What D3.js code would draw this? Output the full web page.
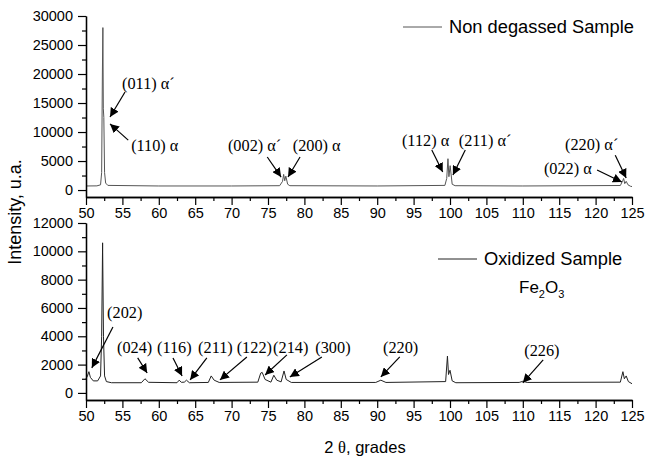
<!DOCTYPE html>
<html>
<head>
<meta charset="utf-8">
<script src="https://cdn.jsdelivr.net/npm/d3@7"></script>
<style>
  body { margin: 0; background: #fff; }
  svg { display: block; }
</style>
</head>
<body>
<svg id="fig_xrd" width="646" height="458"></svg>
<script>

// 2 theta (grades), intensity (u.a.)
var top_series = [[50,700],[51.5,720],[52.0,900],[52.15,3000],[52.25,20000],[52.32,28000],[52.38,14000],
    [52.45,12500],[52.55,3000],[52.7,1200],[53,800],[60,700],[70,700],[76.6,750],[77.0,1500],[77.15,2700],
    [77.3,1600],[77.45,2400],[77.7,1000],[78,750],[90,700],[99.3,800],[99.55,2000],[99.72,5400],[99.85,2300],
    [100.02,4200],[100.3,1000],[100.7,750],[110,700],[123.4,780],[123.72,1600],[123.85,2000],[124.0,1100],
    [124.2,1500],[124.45,900],[124.8,650],[125,600]];

var bottom_series = [[50.0,1000],[50.2,1200],[50.4,1500],[50.6,1100],[51,850],[51.6,850],[52.0,1200],
    [52.15,4000],[52.28,10600],[52.4,4000],[52.55,1200],[52.8,800],[53.5,720],[57.6,720],[58.1,1000],
    [58.6,750],[62.5,720],[62.8,900],[63.1,750],[63.5,760],[63.8,900],[64.2,720],[66.8,740],[67.2,1200],
    [67.6,900],[68.3,740],[73.6,760],[74.0,1400],[74.2,1450],[74.6,950],[75.4,760],[75.8,1250],[76.2,900],
    [76.8,780],[77.2,1550],[77.5,950],[78.2,740],[89.8,740],[90.5,900],[91.2,740],[99.4,800],[99.65,2600],
    [99.8,1300],[100.0,1600],[100.3,850],[100.8,720],[109.5,740],[110.0,820],[110.6,740],[123.4,760],
    [123.75,1500],[123.95,1000],[124.2,1200],[124.5,800],[125,650]];

var x_ticks = [50,55,60,65,70,75,80,85,90,95,100,105,110,115,120,125];
var top_y_ticks = [0,5000,10000,15000,20000,25000,30000];
var bottom_y_ticks = [0,2000,4000,6000,8000,10000,12000];

// label, text pos (x, y), arrow from (x, y) to (x, y) -- all in data units
var top_labels = [
    ["(011) \u03b1\u00b4", 54.95,17400, 55.36,16900, 53.3,12600],
    ["(110) \u03b1",       56.2,6700,   55.8,8600,   53.3,11400],
    ["(002) \u03b1\u00b4", 69.5,6700,   74.9,5700,   76.8,2240],
    ["(200) \u03b1",       78.4,6700,   79.4,5700,   77.75,2240],
    ["(112) \u03b1",       93.4,7600,   97.5,6900,   99.0,3100],
    ["(211) \u03b1\u00b4", 101.2,7600,  102.1,6900,  100.4,2600],
    ["(220) \u03b1\u00b4", 115.8,6900,  122.7,6000,  124.2,2070],
    ["(022) \u03b1",       112.9,2760,  120.2,3450,  123.6,1380]
];

var bottom_labels = [
    ["(202)", 52.9,5300,  53.7,4660,  50.8,1770],
    ["(024)", 54.26,2830, 57.1,2470,  58.4,1410],
    ["(116)", 59.75,2830, 61.95,2470, 63.2,1200],
    ["(211)", 65.4,2830,  66.6,2470,  64.3,920],
    ["(122)", 70.7,2830,  72.1,2540,  68.4,920],
    ["(214)", 75.7,2830,  77.6,2690,  74.6,1270],
    ["(300)", 81.5,2830,  82.4,2540,  78.0,1130],
    ["(220)", 90.8,2830,  93.1,2540,  90.5,1130],
    ["(226)", 110.2,2610, 112.8,2330, 110.0,710]
];

var svg = d3.select("#fig_xrd");

svg.append("defs").append("marker")
    .attr("id", "arrowhead")
    .attr("viewBox", "0 0 10 10")
    .attr("refX", 10).attr("refY", 5)
    .attr("markerWidth", 9).attr("markerHeight", 9)
    .attr("markerUnits", "userSpaceOnUse")
    .attr("orient", "auto")
  .append("path")
    .attr("d", "M0,0 L10,5 L0,10 z")
    .attr("fill", "black");

var x = d3.scaleLinear().domain([50,125]).range([86,632]);

function draw_panel( series, y, yticks, yminor, labels, line_color ){
    let g = svg.append("g");

    let line = d3.line().x(function(d){ return x(d[0]); }).y(function(d){ return y(d[1]); });
    g.append("path")
        .datum(series)
        .attr("d", line)
        .attr("fill", "none")
        .attr("stroke", line_color)
        .attr("stroke-width", 1);

    // x axis
    let xa = g.append("g").attr("transform", "translate(0," + y.range()[0] + ")")
        .call(d3.axisBottom(x).tickValues(x_ticks).tickSize(8).tickSizeOuter(0).tickPadding(4));
    g.append("g").attr("transform", "translate(0," + y.range()[0] + ")")
        .call(d3.axisBottom(x).tickValues(d3.range(52.5,125,5)).tickSize(4).tickSizeOuter(0).tickFormat(""));

    // y axis
    let ya = g.append("g").attr("transform", "translate(" + x.range()[0] + ",0)")
        .call(d3.axisLeft(y).tickValues(yticks).tickSize(8).tickSizeOuter(0).tickPadding(5).tickFormat(d3.format("d")));
    g.append("g").attr("transform", "translate(" + x.range()[0] + ",0)")
        .call(d3.axisLeft(y).tickValues(yminor).tickSize(4).tickSizeOuter(0).tickFormat(""));

    g.selectAll(".domain").attr("stroke", "black").attr("stroke-width", 1.3);
    g.selectAll(".tick line").attr("stroke", "black").attr("stroke-width", 1.2);
    g.selectAll(".tick text").attr("fill", "black")
        .style("font-family", "'Liberation Sans', Arial, sans-serif").style("font-size", "14.5px");
    xa.selectAll(".tick text").attr("dy", "0.6em");

    labels.forEach( function(l){
        g.append("text")
            .attr("x", x(l[1])).attr("y", y(l[2]))
            .style("font-family", "'Liberation Serif', 'Times New Roman', serif")
            .style("font-size", "16.3px")
            .attr("fill", "black")
            .text(l[0]);
        g.append("line")
            .attr("x1", x(l[3])).attr("y1", y(l[4]))
            .attr("x2", x(l[5])).attr("y2", y(l[6]))
            .attr("stroke", "black").attr("stroke-width", 1.2)
            .attr("marker-end", "url(#arrowhead)");
    });
    return g;
}

var y_top = d3.scaleLinear().domain([-1200,30000]).range([197,16]);
var y_bot = d3.scaleLinear().domain([-500,12000]).range([400,223]);

var g_top = draw_panel( top_series, y_top, top_y_ticks, d3.range(2500,30000,5000), top_labels, "#555" );
var g_bot = draw_panel( bottom_series, y_bot, bottom_y_ticks, d3.range(1000,12000,2000), bottom_labels, "#222" );

function legend( grp, x0, y0, color, txt ){
    grp.append("line")
        .attr("x1", x0).attr("x2", x0+39).attr("y1", y0).attr("y2", y0)
        .attr("stroke", color).attr("stroke-width", 1);
    return grp.append("text")
        .attr("x", x0+46).attr("y", y0)
        .attr("dy", ".35em")
        .style("font-family", "'Liberation Sans', Arial, sans-serif")
        .style("font-size", "18.3px")
        .attr("fill", "black")
        .text(txt);
}

legend( g_top, 403, 27, "#555", "Non degassed Sample" );
legend( g_bot, 438, 259, "#222", "Oxidized Sample" );

var fe = g_bot.append("text")
    .attr("x", 519).attr("y", 293)
    .style("font-family", "'Liberation Sans', Arial, sans-serif")
    .style("font-size", "17px")
    .attr("fill", "black");
fe.append("tspan").text("Fe");
fe.append("tspan").attr("dy", 5).style("font-size", "11px").text("2");
fe.append("tspan").attr("dy", -5).text("O");
fe.append("tspan").attr("dy", 5).style("font-size", "11px").text("3");

// axis titles
svg.append("text")
    .attr("transform", "translate(21,212) rotate(-90)")
    .attr("text-anchor", "middle")
    .style("font-family", "'Liberation Sans', Arial, sans-serif")
    .style("font-size", "18px")
    .text("Intensity, u.a.");

var xt = svg.append("text")
    .attr("x", 365).attr("y", 453)
    .attr("text-anchor", "middle")
    .style("font-family", "'Liberation Sans', Arial, sans-serif")
    .style("font-size", "16.5px");
xt.append("tspan").text("2 ");
xt.append("tspan").style("font-family", "'Liberation Serif', 'Times New Roman', serif").text("\u03b8");
xt.append("tspan").text(", grades");

</script>
</body>
</html>
